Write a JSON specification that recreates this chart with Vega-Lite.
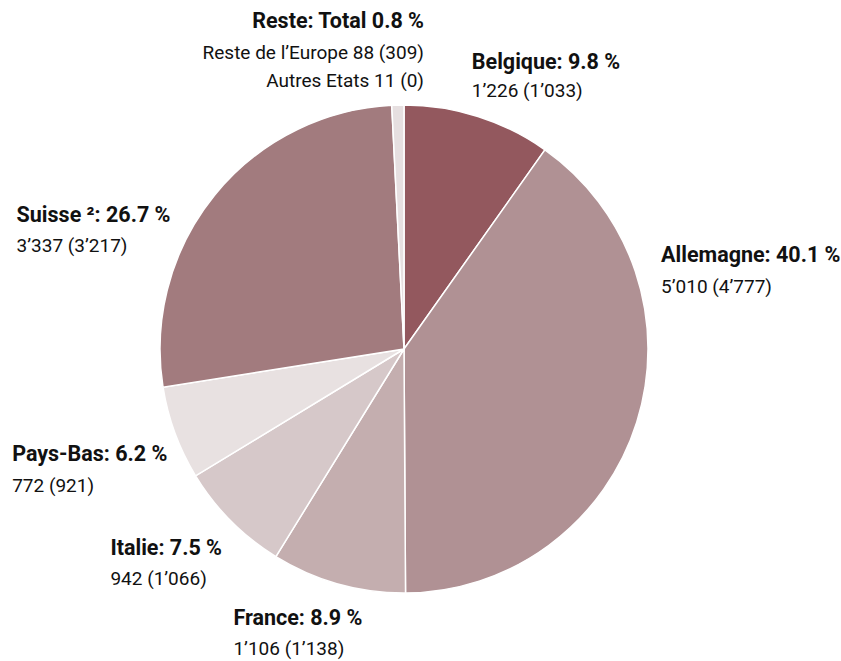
{
  "$schema": "https://vega.github.io/schema/vega-lite/v6.json",
  "autosize": {"type": "none"},
  "width": 488,
  "height": 488,
  "padding": {"left": 160, "top": 105, "right": 193, "bottom": 68},
  "background": "white",
  "config": {"view": {"stroke": null}, "text": {"font": "Roboto, sans-serif", "color": "#111111"}},
  "data": {"values": [
    {"idx": 1, "country": "Belgique", "share": 9.8, "title": "Belgique: 9.8 %", "detail": "1’226 (1’033)"},
    {"idx": 2, "country": "Allemagne", "share": 40.1, "title": "Allemagne: 40.1 %", "detail": "5’010 (4’777)"},
    {"idx": 3, "country": "France", "share": 8.9, "title": "France: 8.9 %", "detail": "1’106 (1’138)"},
    {"idx": 4, "country": "Italie", "share": 7.5, "title": "Italie: 7.5 %", "detail": "942 (1’066)"},
    {"idx": 5, "country": "Pays-Bas", "share": 6.2, "title": "Pays-Bas: 6.2 %", "detail": "772 (921)"},
    {"idx": 6, "country": "Suisse", "share": 26.7, "title": "Suisse ²: 26.7 %", "detail": "3’337 (3’217)"},
    {"idx": 7, "country": "Reste", "share": 0.8, "title": "Reste: Total 0.8 %", "detail": ["Reste de l’Europe 88 (309)", "Autres Etats 11 (0)"]}
  ]},
  "encoding": {
    "theta": {"field": "share", "type": "quantitative", "stack": true},
    "order": {"field": "idx", "type": "quantitative"}
  },
  "layer": [
    {
      "mark": {"type": "arc", "outerRadius": 244, "stroke": "white", "strokeWidth": 1.5},
      "encoding": {
        "color": {"field": "country", "type": "nominal", "legend": null,
          "scale": {"domain": ["Belgique", "Allemagne", "France", "Italie", "Pays-Bas", "Suisse", "Reste"],
                    "range": ["#93585e", "#b09194", "#c4aeaf", "#d6c8c9", "#e8e1e1", "#a27b7e", "#e6dfe0"]}}
      }
    },
    {"mark": {"type": "text", "radius": 280, "align": "left", "baseline": "alphabetic", "fontWeight": "bold", "fontSize": 21.5, "dx": -17, "dy": -13},
     "encoding": {"text": {"condition": {"test": "datum.country === 'Belgique'", "field": "title"}, "value": ""}}},
    {"mark": {"type": "text", "radius": 280, "align": "left", "baseline": "alphabetic", "fontSize": 19, "dx": -17, "dy": 15},
     "encoding": {"text": {"condition": {"test": "datum.country === 'Belgique'", "field": "detail"}, "value": ""}}},
    {"mark": {"type": "text", "radius": 280, "align": "left", "baseline": "alphabetic", "fontWeight": "bold", "fontSize": 21.5, "dx": -10, "dy": -171},
     "encoding": {"text": {"condition": {"test": "datum.country === 'Allemagne'", "field": "title"}, "value": ""}}},
    {"mark": {"type": "text", "radius": 280, "align": "left", "baseline": "alphabetic", "fontSize": 19, "dx": -10, "dy": -140},
     "encoding": {"text": {"condition": {"test": "datum.country === 'Allemagne'", "field": "detail"}, "value": ""}}},
    {"mark": {"type": "text", "radius": 280, "align": "left", "baseline": "alphabetic", "fontWeight": "bold", "fontSize": 21.5, "dx": -95, "dy": 6},
     "encoding": {"text": {"condition": {"test": "datum.country === 'France'", "field": "title"}, "value": ""}}},
    {"mark": {"type": "text", "radius": 280, "align": "left", "baseline": "alphabetic", "fontSize": 19, "dx": -95, "dy": 36},
     "encoding": {"text": {"condition": {"test": "datum.country === 'France'", "field": "detail"}, "value": ""}}},
    {"mark": {"type": "text", "radius": 280, "align": "left", "baseline": "alphabetic", "fontWeight": "bold", "fontSize": 21.5, "dx": -95, "dy": 9},
     "encoding": {"text": {"condition": {"test": "datum.country === 'Italie'", "field": "title"}, "value": ""}}},
    {"mark": {"type": "text", "radius": 280, "align": "left", "baseline": "alphabetic", "fontSize": 19, "dx": -95, "dy": 39},
     "encoding": {"text": {"condition": {"test": "datum.country === 'Italie'", "field": "detail"}, "value": ""}}},
    {"mark": {"type": "text", "radius": 280, "align": "left", "baseline": "alphabetic", "fontWeight": "bold", "fontSize": 21.5, "dx": -129, "dy": 15},
     "encoding": {"text": {"condition": {"test": "datum.country === 'Pays-Bas'", "field": "title"}, "value": ""}}},
    {"mark": {"type": "text", "radius": 280, "align": "left", "baseline": "alphabetic", "fontSize": 19, "dx": -129, "dy": 46},
     "encoding": {"text": {"condition": {"test": "datum.country === 'Pays-Bas'", "field": "detail"}, "value": ""}}},
    {"mark": {"type": "text", "radius": 280, "align": "left", "baseline": "alphabetic", "fontWeight": "bold", "fontSize": 21.5, "dx": -170, "dy": 49},
     "encoding": {"text": {"condition": {"test": "datum.country === 'Suisse'", "field": "title"}, "value": ""}}},
    {"mark": {"type": "text", "radius": 280, "align": "left", "baseline": "alphabetic", "fontSize": 19, "dx": -170, "dy": 79},
     "encoding": {"text": {"condition": {"test": "datum.country === 'Suisse'", "field": "detail"}, "value": ""}}},
    {"mark": {"type": "text", "radius": 280, "align": "right", "baseline": "alphabetic", "fontWeight": "bold", "fontSize": 21.5, "dx": 27, "dy": -41},
     "encoding": {"text": {"condition": {"test": "datum.country === 'Reste'", "field": "title"}, "value": ""}}},
    {"mark": {"type": "text", "radius": 280, "align": "right", "baseline": "alphabetic", "fontSize": 19, "lineHeight": 28, "dx": 27, "dy": -10},
     "encoding": {"text": {"condition": {"test": "datum.country === 'Reste'", "field": "detail"}, "value": ""}}}
  ]
}
